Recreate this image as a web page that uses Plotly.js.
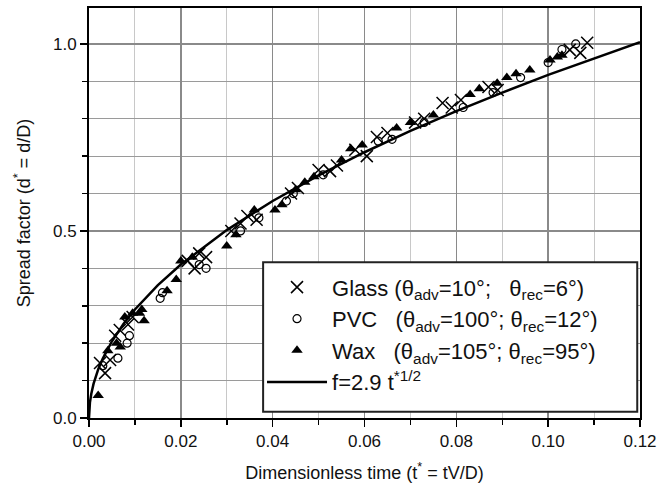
<!DOCTYPE html>
<html>
<head>
<meta charset="utf-8">
<script src="https://cdn.plot.ly/plotly-3.0.1.min.js"></script>
<style>html,body{margin:0;padding:0;background:#fff;}#chart{width:663px;height:495px;}</style>
</head>
<body>
<div id="chart"></div>
<script>
// Glass (X)
var glassT = [0.0024,0.0035,0.0046,0.0057,0.0067,0.0085,0.0095,0.0215,0.023,0.024,0.0255,0.031,0.033,0.0345,0.0365,0.044,0.0455,0.050,0.0525,0.054,0.058,0.0605,0.0627,0.065,0.071,0.073,0.077,0.079,0.081,0.087,0.089,0.1047,0.107,0.1085];
var glassD = [0.147,0.12,0.155,0.22,0.235,0.25,0.27,0.42,0.40,0.44,0.43,0.50,0.52,0.54,0.53,0.60,0.615,0.663,0.66,0.675,0.717,0.70,0.751,0.762,0.79,0.80,0.842,0.83,0.85,0.885,0.877,0.984,0.976,1.003];
// PVC (circles)
var pvcT = [0.003,0.0063,0.0083,0.0088,0.0155,0.016,0.024,0.0255,0.033,0.037,0.043,0.0445,0.051,0.063,0.066,0.073,0.0815,0.088,0.094,0.100,0.103,0.106];
var pvcD = [0.14,0.16,0.20,0.22,0.32,0.335,0.41,0.40,0.50,0.535,0.58,0.60,0.65,0.74,0.745,0.79,0.83,0.87,0.91,0.95,0.985,1.0];
// Wax (triangles)
var waxT = [0.002,0.0041,0.006,0.0068,0.0078,0.0095,0.011,0.012,0.0115,0.017,0.019,0.020,0.0225,0.030,0.032,0.036,0.0405,0.042,0.045,0.047,0.049,0.055,0.057,0.0595,0.067,0.070,0.075,0.083,0.085,0.0889,0.091,0.093,0.096,0.1004,0.102,0.103];
var waxD = [0.06,0.18,0.20,0.19,0.27,0.28,0.28,0.26,0.29,0.34,0.37,0.42,0.43,0.46,0.49,0.556,0.556,0.57,0.61,0.63,0.645,0.69,0.72,0.73,0.775,0.79,0.81,0.865,0.88,0.895,0.91,0.92,0.93,0.957,0.965,0.97];
// Fit line f = 2.9 t*^(1/2), sampled values
var fitT = [0,0.0001,0.0002,0.0005,0.001,0.002,0.003,0.005,0.0075,0.01,0.015,0.02,0.03,0.04,0.05,0.06,0.07,0.08,0.09,0.10,0.11,0.12];
var fitD = [0,0.029,0.041,0.0648,0.0917,0.1297,0.1588,0.2051,0.2511,0.29,0.3552,0.4101,0.5023,0.58,0.6485,0.7104,0.7673,0.8202,0.870,0.9171,0.9618,1.0046];

var names = [
  'Glass (θ<sub>adv</sub>=10°;&nbsp;&nbsp; θ<sub>rec</sub>=6°)',
  'PVC&nbsp;&nbsp; (θ<sub>adv</sub>=100°; θ<sub>rec</sub>=12°)',
  'Wax&nbsp;&nbsp; (θ<sub>adv</sub>=105°; θ<sub>rec</sub>=95°)',
  'f=2.9 t<sup>*1/2</sup>'
];

var traces = [
  {x: glassT, y: glassD, name: names[0], type: 'scatter', mode: 'markers', legendgroup:'a',
   marker: {symbol: 'x-thin-open', size: 12, color: '#000', line: {width: 1.5, color: '#000'}}},
  {x: pvcT, y: pvcD, name: names[1], type: 'scatter', mode: 'markers', legendgroup:'b',
   marker: {symbol: 'circle-open', size: 8, color: '#000', line: {width: 1.2, color: '#000'}}},
  {x: waxT, y: waxD, name: names[2], type: 'scatter', mode: 'markers', legendgroup:'c',
   marker: {symbol: 'triangle-up', size: 10, color: '#000', line: {width: 0}}},
  {x: fitT, y: fitD, name: names[3], type: 'scatter', mode: 'lines', legendgroup:'d',
   line: {color: '#000', width: 2.5}}
];

var layout = {
  width: 663, height: 495,
  margin: {l: 89, r: 23, t: 8, b: 77},
  paper_bgcolor: '#fff', plot_bgcolor: '#fff',
  font: {family: 'Arial, "Liberation Sans", sans-serif', color: '#111', size: 17},
  showlegend: true,
  legend: {x: 0.314, y: 0.37, xanchor: 'left', yanchor: 'top', bgcolor: 'rgba(0,0,0,0)',
           borderwidth: 0, font: {size: 22, color: '#111'}, tracegroupgap: 0, itemwidth: 60},
  xaxis: {
    range: [0, 0.12], dtick: 0.02, tick0: 0, tickformat: '.2f',
    ticks: 'outside', ticklen: 7, tickwidth: 1.5, tickcolor: '#000',
    showline: true, linewidth: 2, linecolor: '#000', mirror: true,
    showgrid: true, gridcolor: '#8a8a8a', gridwidth: 1.5, zeroline: false,
    minor: {dtick: 0.01, ticks: 'outside', ticklen: 5, tickwidth: 1.5, tickcolor: '#000', showgrid: true, gridcolor: '#c8c8c8', gridwidth: 1},
    title: {text: 'Dimensionless time (t<sup>*</sup> = tV/D)', font: {size: 18}, standoff: 16}
  },
  yaxis: {
    range: [0, 1.096], dtick: 0.5, tick0: 0, tickformat: '.1f',
    ticks: 'outside', ticklen: 7, tickwidth: 1.5, tickcolor: '#000',
    showline: true, linewidth: 2, linecolor: '#000', mirror: true,
    showgrid: true, gridcolor: '#8a8a8a', gridwidth: 1.5, zeroline: false,
    minor: {dtick: 0.1, ticks: 'outside', ticklen: 5, tickwidth: 1.5, tickcolor: '#000', showgrid: true, gridcolor: '#9a9a9a', gridwidth: 1},
    title: {text: 'Spread factor (d<sup>*</sup> = d/D)', font: {size: 18}, standoff: 18}
  },
  shapes: [
    {type: 'rect', xref: 'paper', yref: 'paper', x0: 0.316, x1: 0.995, y0: 0.015, y1: 0.380,
     line: {color: '#222', width: 2}, fillcolor: '#fff', layer: 'above'}
  ]
};

Plotly.newPlot('chart', traces, layout, {displayModeBar: false, staticPlot: true});
</script>
</body>
</html>
